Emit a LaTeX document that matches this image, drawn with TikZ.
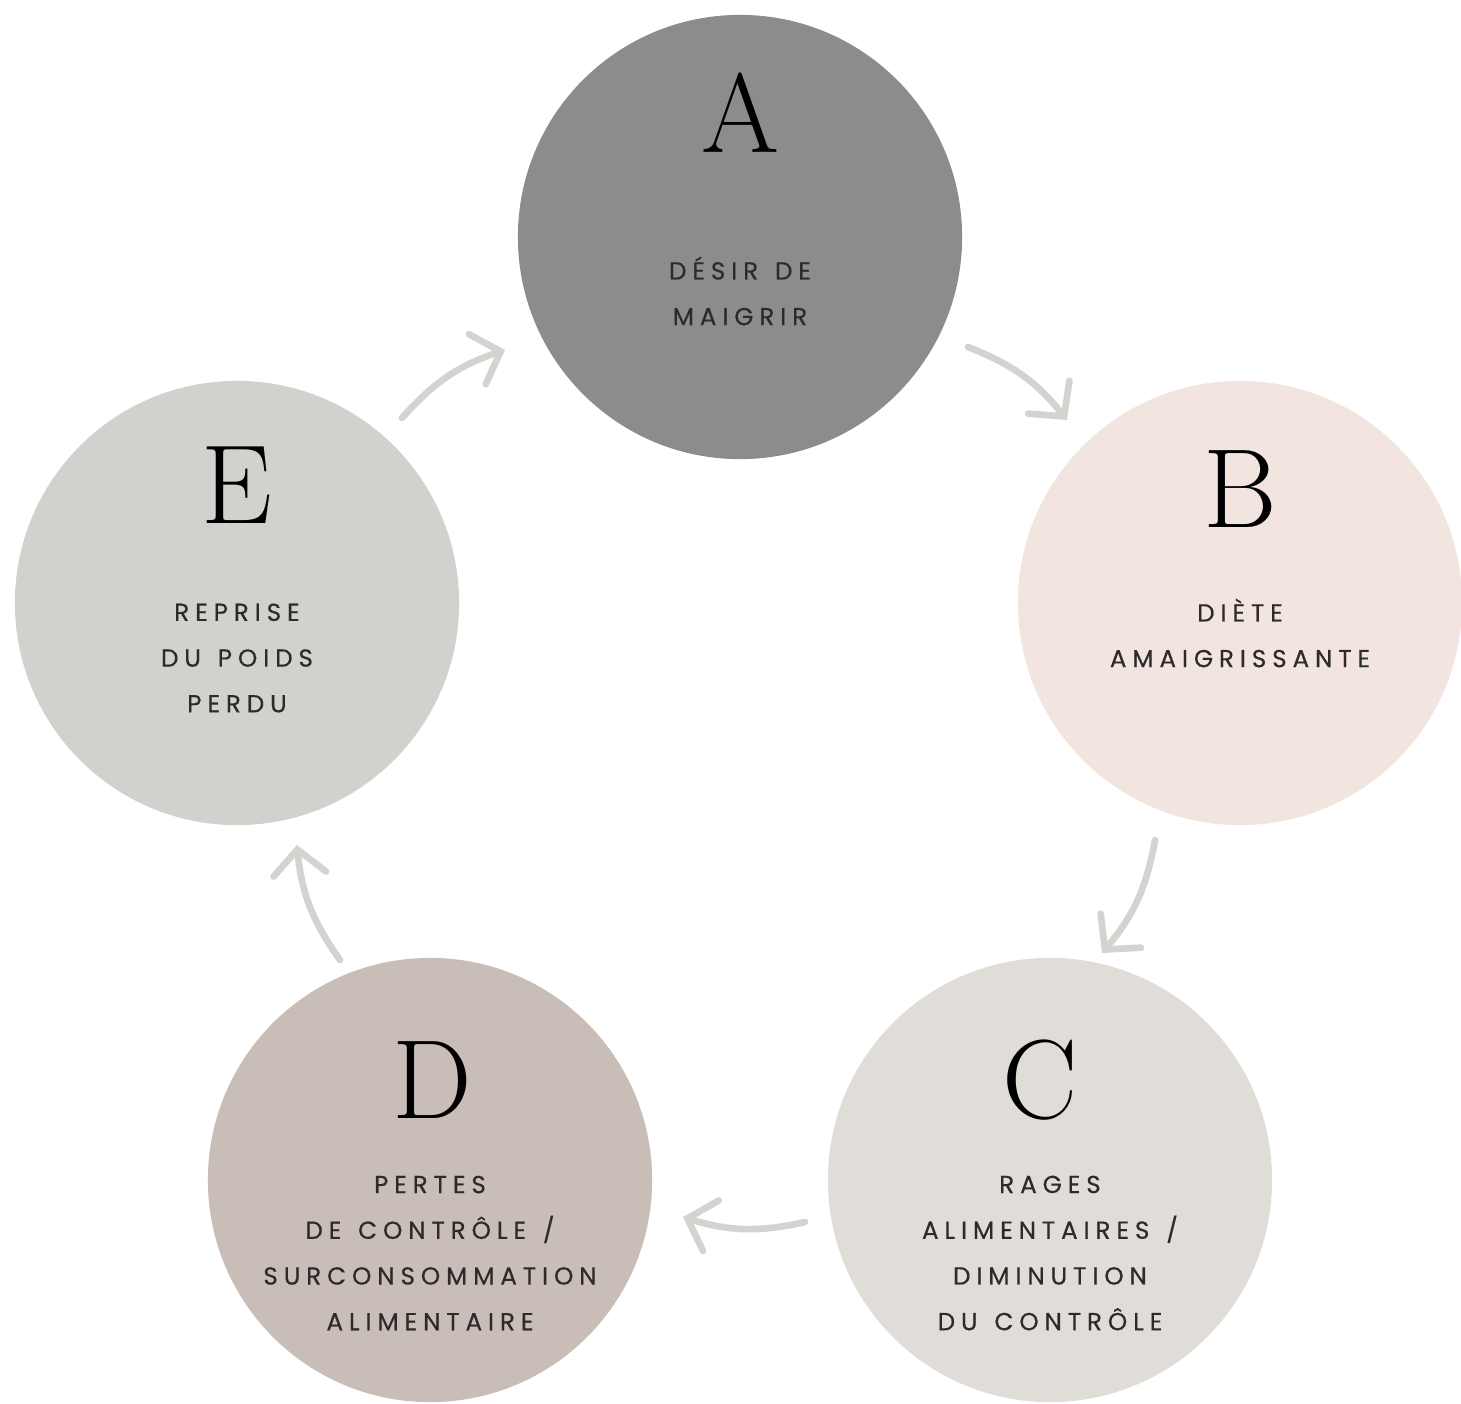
\documentclass[tikz,border=0pt]{standalone}
\usepackage{fontspec}
\newfontfamily\capsfont[LetterSpace=24, WordSpace=1.35, FakeBold=0.4]{Poppins}
\usetikzlibrary{arrows.meta, positioning, calc}
\definecolor{phaseA}{HTML}{8C8C8C}
\definecolor{phaseB}{HTML}{F2E5E0}
\definecolor{phaseC}{HTML}{E0DDD8}
\definecolor{phaseD}{HTML}{C9BDB8}
\definecolor{phaseE}{HTML}{D1D2CD}
\definecolor{arrowgray}{HTML}{D3D4CF}
\definecolor{inkgray}{HTML}{2B2B2B}
\tikzset{
    phase/.style = {circle, minimum size=4.44cm, inner sep=0pt},
    letter/.style = {anchor=base, inner sep=0pt, font=\fontsize{32}{36}\selectfont},
    caption/.style = {align=center, inner sep=0pt, text=inkgray, font=\capsfont\fontsize{7}{13}\selectfont}
}
\begin{document}
\begin{tikzpicture}[
        x=0.01cm, y=-0.01cm,
        % STYLES
        cycleflow/.style = {draw=arrowgray, line width=1.9pt, line cap=round, -{Straight Barb[length=7pt, width=15pt, line cap=round]}, bend left=15}
    ]
        \useasboundingbox (0,0) rectangle (1461,1403);

        % --- NODES ---
        % Circles
        \node [phase, fill=phaseA] (desir) at (740,237) {};
        \node [phase, fill=phaseB] (diete) at (1240,603) {};
        \node [phase, fill=phaseC] (rages) at (1050,1180) {};
        \node [phase, fill=phaseD] (pertes) at (430,1180) {};
        \node [phase, fill=phaseE] (reprise) at (237,603) {};

        % Letters
        \node [letter] (desir-letter) at (740,152) {A};
        \node [letter] (diete-letter) at (1240,527) {B};
        \node [letter] (rages-letter) at (1040,1118) {C};
        \node [letter] (pertes-letter) at (432,1118) {D};
        \node [letter] (reprise-letter) at (237,523) {E};

        % Texts
        \node [caption] (desir-text) at (740,291) {DÉSIR DE\\MAIGRIR};
        \node [caption] (diete-text) at (1240,633) {DIÈTE\\AMAIGRISSANTE};
        \node [caption] (rages-text) at (1050,1253) {RAGES\\ALIMENTAIRES /\\DIMINUTION\\DU CONTRÔLE};
        \node [caption] (pertes-text) at (430,1253) {PERTES\\DE CONTRÔLE /\\SURCONSOMMATION\\ALIMENTAIRE};
        \node [caption] (reprise-text) at (237,658) {REPRISE\\DU POIDS\\PERDU};

        % Arrow ends
        \coordinate (ab-tail) at (968,347);
        \coordinate (ab-tip) at (1067,420);
        \coordinate (bc-tail) at (1155,840);
        \coordinate (bc-tip) at (1102,953);
        \coordinate (cd-tail) at (805,1222);
        \coordinate (cd-tip) at (683,1217);
        \coordinate (de-tail) at (340,960);
        \coordinate (de-tip) at (297,845);
        \coordinate (ea-tail) at (402,418);
        \coordinate (ea-tip) at (505,350);

        % --- PATHS ---
        \path [cycleflow] (ab-tail) to (ab-tip);
        \path [cycleflow] (bc-tail) to (bc-tip);
        \path [cycleflow] (cd-tail) to (cd-tip);
        \path [cycleflow] (de-tail) to (de-tip);
        \path [cycleflow] (ea-tail) to (ea-tip);

\end{tikzpicture}
\end{document}
